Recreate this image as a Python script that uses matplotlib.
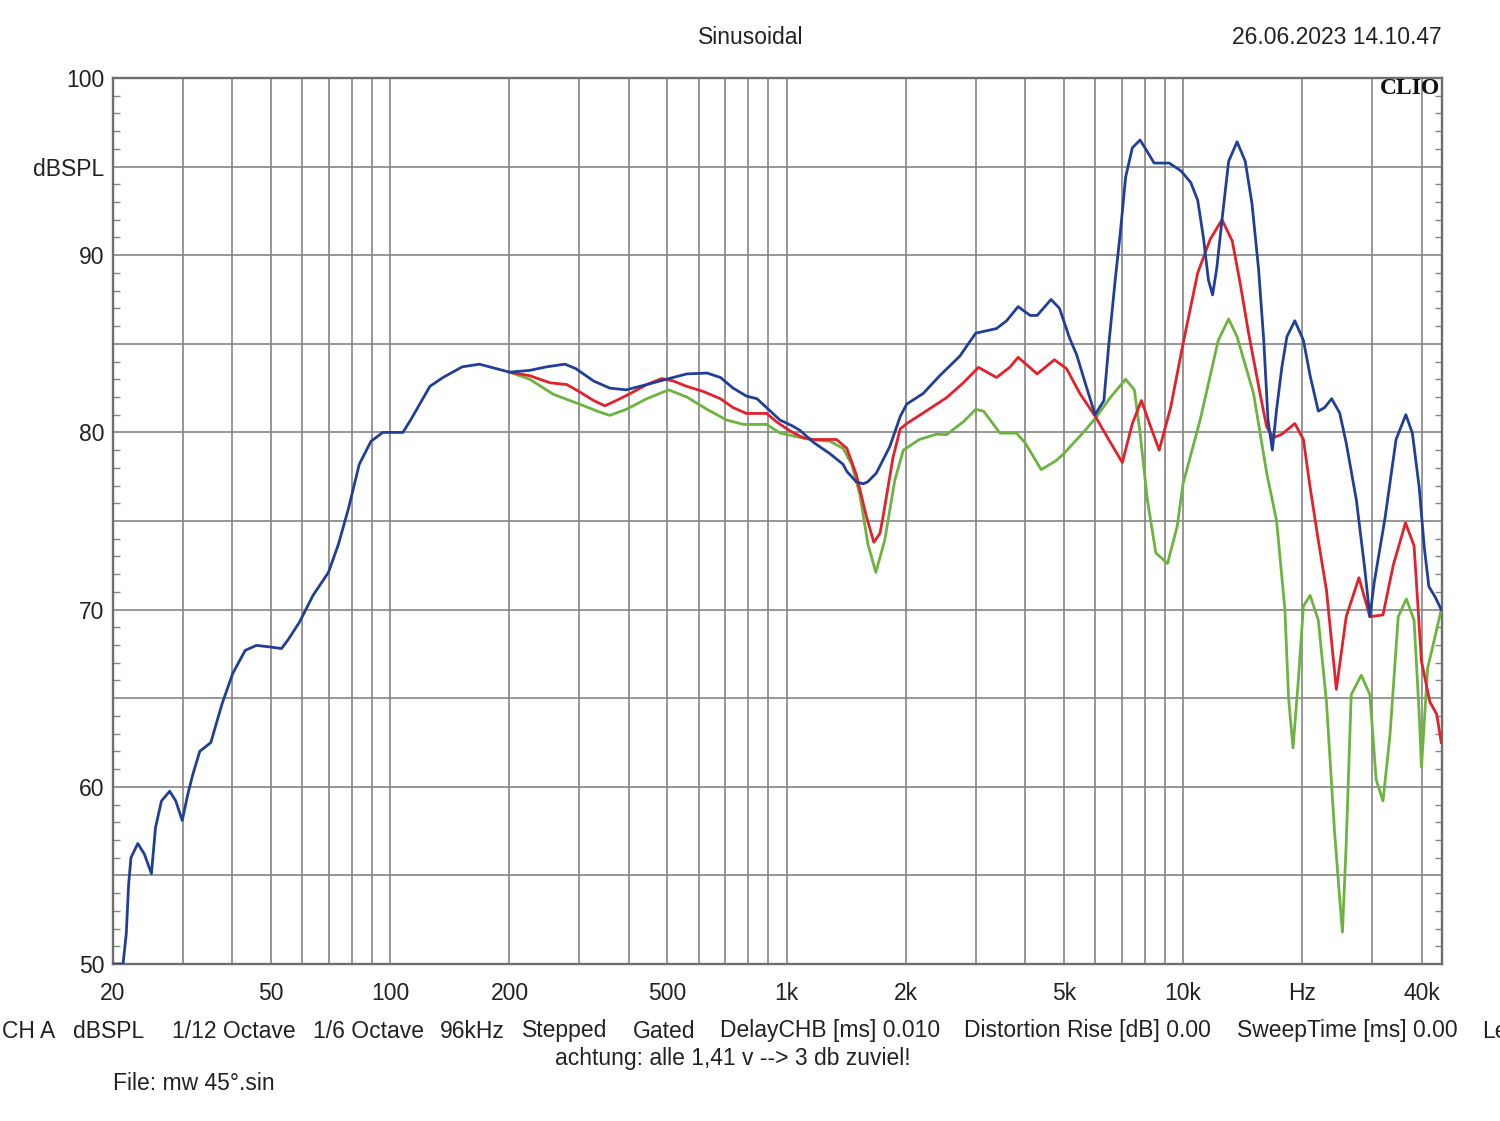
import numpy as np
import matplotlib
matplotlib.use('Agg')
import matplotlib.pyplot as plt
from matplotlib.ticker import FixedLocator, NullFormatter

plt.rcParams['font.family'] = ['Liberation Sans', 'DejaVu Sans']

# Frequency response (Hz, dBSPL).
blue_f = [20, 21.2, 21.6, 21.9, 22.2, 23.1, 24.0, 25.0, 25.6, 26.5, 27.8, 28.8, 29.9, 30.9,
          31.8, 33.1, 35.3, 37.7, 40.1, 43.1, 46.0, 49.5, 53.2, 55.3, 59.1, 63.9, 69.9, 74.1,
          78.5, 83.6, 89.5, 95.9, 107.7, 113, 126, 136, 152, 168, 185, 200, 225, 248, 276,
          294, 326, 358, 394, 444, 498, 560, 630, 681, 733, 792, 842, 900, 962, 1038, 1083,
          1167, 1286, 1388, 1419, 1500, 1560, 1600, 1684, 1821, 1935, 2010, 2212, 2434, 2734,
          3000, 3384, 3589, 3838, 4000, 4118, 4286, 4646, 4880, 5000, 5178, 5388, 5700, 6000,
          6316, 6500, 6744, 6956, 7164, 7450, 7790, 8048, 8454, 9228, 9880, 10460, 10890,
          11256, 11590, 11872, 12170, 12540, 13034, 13686, 14352, 14928, 15510, 15980, 16380,
          16800, 17220, 17760, 18280, 19140, 20120, 20920, 21940, 22760, 23700, 24840, 25800,
          27360, 28700, 29600, 30340, 32340, 34460, 36480, 37880, 39420, 40600, 41700, 43280,
          44800]
blue_db = [50.0, 50.0, 51.7, 54.5, 56.0, 56.8, 56.2, 55.1, 57.7, 59.2, 59.75, 59.2, 58.1, 59.6,
           60.7, 62.0, 62.5, 64.7, 66.4, 67.7, 67.98, 67.9, 67.8, 68.3, 69.3, 70.8, 72.1, 73.7,
           75.7, 78.2, 79.5, 80.0, 80.0, 80.75, 82.6, 83.1, 83.7, 83.85, 83.6, 83.4, 83.5,
           83.7, 83.85, 83.6, 82.9, 82.5, 82.4, 82.7, 83.0, 83.3, 83.35, 83.1, 82.5, 82.05,
           81.9, 81.3, 80.7, 80.35, 80.1, 79.45, 78.8, 78.2, 77.8, 77.2, 77.1, 77.2, 77.7,
           79.2, 80.9, 81.6, 82.2, 83.2, 84.3, 85.6, 85.86, 86.3, 87.1, 86.8, 86.6, 86.6,
           87.5, 87.0, 86.3, 85.3, 84.4, 82.6, 81.0, 81.8, 85.0, 88.6, 91.4, 94.4, 96.06,
           96.5, 96.0, 95.2, 95.2, 94.76, 94.1, 93.1, 91.0, 88.6, 87.76, 89.3, 92.0, 95.3,
           96.4, 95.3, 92.9, 89.2, 85.2, 80.7, 79.0, 81.3, 83.7, 85.4, 86.3, 85.2, 83.2, 81.2,
           81.4, 81.9, 81.1, 79.4, 76.2, 72.4, 69.6, 71.5, 75.2, 79.6, 81.0, 79.96, 76.9,
           73.5, 71.3, 70.7, 70.0]

red_f = [200, 225, 253, 279, 300, 326, 348, 372, 404, 444, 484, 518, 560, 618, 681, 733, 792,
         891, 943, 1022, 1102, 1167, 1337, 1419, 1500, 1588, 1660, 1720, 1750, 1821, 1856,
         1935, 2010, 2212, 2532, 2792, 3048, 3384, 3655, 3838, 4286, 4737, 5084, 5492, 6008,
         6572, 7030, 7450, 7852, 8292, 8706, 9304, 10000, 10890, 11708, 12540, 13310, 13940,
         14634, 15700, 16260, 16900, 17760, 19140, 20120, 20920, 21940, 23000, 24360, 25800,
         27780, 29600, 31940, 33900, 36400, 38260, 39940, 41920, 43640, 44800]
red_db = [83.4, 83.2, 82.8, 82.7, 82.3, 81.8, 81.5, 81.8, 82.2, 82.7, 83.04, 82.9, 82.6, 82.3,
          81.9, 81.4, 81.07, 81.07, 80.6, 80.07, 79.7, 79.6, 79.6, 79.1, 77.6, 75.3, 73.8,
          74.3, 75.2, 77.5, 78.6, 80.2, 80.5, 81.1, 81.96, 82.8, 83.67, 83.1, 83.67, 84.24,
          83.3, 84.1, 83.6, 82.2, 80.9, 79.4, 78.3, 80.5, 81.8, 80.3, 79.0, 81.4, 85.0, 89.0,
          90.9, 92.0, 90.8, 88.4, 85.6, 82.0, 80.3, 79.7, 79.9, 80.5, 79.6, 76.9, 73.9, 71.1,
          65.5, 69.6, 71.8, 69.6, 69.7, 72.5, 74.9, 73.6, 67.1, 64.8, 64.1, 62.5]

green_f = [200, 225, 258, 300, 333, 358, 394, 444, 504, 560, 630, 706, 778, 891, 962, 1038,
           1146, 1286, 1388, 1460, 1530, 1604, 1679, 1768, 1875, 1970, 2163, 2388, 2532,
           2792, 3000, 3139, 3454, 3802, 4000, 4388, 4782, 5000, 5580, 6008, 6572, 7164,
           7538, 7794, 8128, 8538, 9140, 9666, 10000, 11044, 12272, 13034, 13686, 15060,
           16260, 17220, 18070, 18460, 18940, 19580, 20120, 20920, 21940, 23000, 24120,
           24840, 25240, 25800, 26560, 28160, 29600, 30700, 31940, 33260, 34900, 36580,
           38260, 39420, 39940, 41400, 43040, 44800]
green_db = [83.4, 83.0, 82.15, 81.6, 81.2, 80.96, 81.3, 81.9, 82.4, 82.0, 81.3, 80.7, 80.45,
            80.45, 79.97, 79.8, 79.6, 79.5, 79.1, 78.2, 76.5, 73.7, 72.1, 73.9, 77.3, 79.0,
            79.6, 79.9, 79.87, 80.6, 81.3, 81.2, 79.96, 79.96, 79.4, 77.9, 78.4, 78.8, 79.95,
            80.8, 82.0, 83.0, 82.4, 79.95, 76.2, 73.2, 72.6, 74.7, 77.1, 80.7, 85.2, 86.4,
            85.4, 82.2, 77.7, 75.0, 70.0, 65.0, 62.2, 66.3, 70.2, 70.8, 69.4, 64.8, 57.4,
            53.7, 51.8, 56.8, 65.2, 66.3, 65.2, 60.4, 59.2, 62.9, 69.6, 70.6, 69.4, 64.1,
            61.1, 66.7, 68.3, 70.0]

# Axis ticks and labels.
x_major = [20, 50, 100, 200, 500, 1000, 2000, 5000, 10000, 20000, 40000]
x_labels = ['20', '50', '100', '200', '500', '1k', '2k', '5k', '10k', 'Hz', '40k']
x_minor = [30, 40, 60, 70, 80, 90, 300, 400, 600, 700, 800, 900,
           3000, 4000, 6000, 7000, 8000, 9000, 30000]
y_major = [50, 55, 60, 65, 70, 75, 80, 85, 90, 95, 100]
y_labels = ['50', '', '60', '', '70', '', '80', '', '90', 'dBSPL', '100']

title = 'Sinusoidal'
stamp = '26.06.2023 14.10.47'
info_items = ['CH A', 'dBSPL', '1/12 Octave', '1/6 Octave', '96kHz', 'Stepped', 'Gated',
              'DelayCHB [ms] 0.010', 'Distortion Rise [dB] 0.00', 'SweepTime [ms] 0.00', 'Le']
note = 'achtung: alle 1,41 v --> 3 db zuviel!'
file_name = 'File: mw 45°.sin'

W, H = 1500, 1121
fig = plt.figure(figsize=(W / 100, H / 100), dpi=100)
fig.patch.set_facecolor('white')
ax = fig.add_axes([113 / W, 1 - 964 / H, 1329 / W, 886 / H])

ax.set_xscale('log')
ax.set_xlim(20, 45000)
ax.set_ylim(50, 100)

grid_col = '#858585'
ax.xaxis.set_major_locator(FixedLocator(x_major))
ax.xaxis.set_minor_locator(FixedLocator(x_minor))
ax.xaxis.set_minor_formatter(NullFormatter())
ax.set_xticklabels(x_labels)
ax.set_yticks(y_major)
ax.set_yticklabels(y_labels)
ax.yaxis.set_minor_locator(FixedLocator(np.arange(51, 100, 1)))

ax.grid(True, which='both', axis='x', color=grid_col, lw=1.2)
ax.grid(True, which='major', axis='y', color=grid_col, lw=1.2)
ax.tick_params(axis='x', which='both', length=0, pad=13, labelsize=16.5, colors='#222222')
ax.tick_params(axis='y', which='major', length=0, pad=6, labelsize=16.5, colors='#222222')
ax.tick_params(axis='y', which='minor', direction='in', left=True, right=True,
               length=5, width=1, color=grid_col)
for s in ax.spines.values():
    s.set_color('#6e6e6e')
    s.set_linewidth(1.7)

# Curves.
ax.plot(green_f, green_db, color='#6cb33f', lw=2.0, solid_joinstyle='round', zorder=3)
ax.plot(red_f, red_db, color='#e4202b', lw=2.0, solid_joinstyle='round', zorder=4)
ax.plot(blue_f, blue_db, color='#213f96', lw=2.0, solid_joinstyle='round', zorder=5)

ax.text(0.9985, 0.9876, 'CLIO', transform=ax.transAxes, ha='right', va='center',
        family='Liberation Serif', weight='bold', fontsize=17, color='#111111')

# Header and footer texts (pixel positions).
def px(x, y):
    return x / W, 1 - y / H

fs = 16.5
fig.text(*px(751, 38), title, ha='center', va='center', fontsize=fs, color='#222222')
fig.text(*px(1442, 38), stamp, ha='right', va='center', fontsize=fs, color='#222222')

# The reference line runs past the right edge, so the last item is cut there too.
info_x = [2, 73, 172, 313, 440, 522, 633, 720, 964, 1237, 1482]
for s, x in zip(info_items, info_x):
    fig.text(*px(x, 1031), s, ha='left', va='center', fontsize=fs, color='#222222')
fig.text(*px(733, 1058), note, ha='center', va='center', fontsize=fs, color='#222222')
fig.text(*px(113, 1084), file_name, ha='left', va='center', fontsize=fs, color='#222222')

fig.savefig('out.png', dpi=100)
